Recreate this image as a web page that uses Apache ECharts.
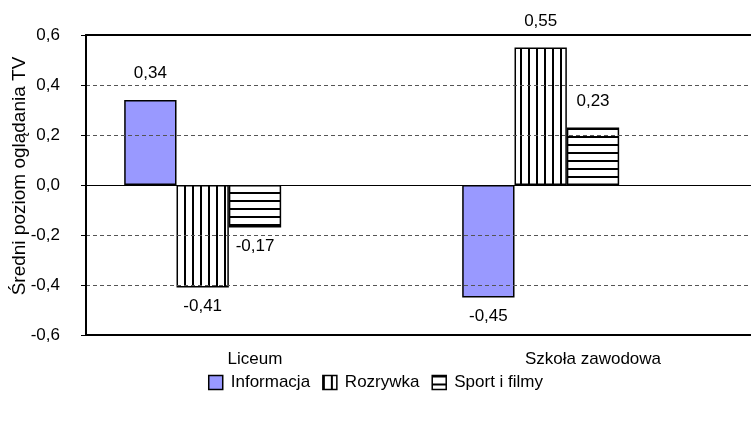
<!DOCTYPE html>
<html>
<head>
<meta charset="utf-8">
<script src="https://cdn.jsdelivr.net/npm/echarts@6/dist/echarts.min.js"></script>
<style>html,body{margin:0;padding:0;background:#fff}#c{width:751px;height:421px}</style>
</head>
<body>
<div id="c"></div>
<script>
var categories = ['Liceum', 'Szkoła zawodowa'];
var seriesNames = ['Informacja', 'Rozrywka', 'Sport i filmy'];
var informacja = [0.34, -0.45];
var rozrywka = [-0.41, 0.55];
var sportIFilmy = [-0.17, 0.23];
var yTicks = [-0.6, -0.4, -0.2, 0.0, 0.2, 0.4, 0.6];

var FONT = "'Liberation Sans', Arial, sans-serif";
function fmt(v) { return Number(v).toFixed(2).replace('.', ','); }

function makePattern(vertical) {
  var c = document.createElement('canvas');
  c.width = 8; c.height = 8;
  var ctx = c.getContext('2d');
  ctx.fillStyle = '#fff';
  ctx.fillRect(0, 0, 8, 8);
  ctx.fillStyle = '#000';
  if (vertical) ctx.fillRect(0, 0, 2, 8); else ctx.fillRect(0, 0, 8, 2);
  return { image: c, repeat: 'repeat' };
}

function buildData(vals) {
  return vals.map(function (v) {
    return {
      value: v,
      label: { position: v >= 0 ? 'top' : 'bottom', distance: v >= 0 ? 18 : 10 }
    };
  });
}

function barSeries(name, vals, color) {
  return {
    name: name,
    type: 'bar',
    data: buildData(vals),
    barGap: '0%',
    barCategoryGap: '22.6%',
    itemStyle: { color: color, borderColor: '#000', borderWidth: 1.5 },
    label: {
      show: true, color: '#000', fontFamily: FONT, fontSize: 17,
      formatter: function (p) { return fmt(p.value); }
    },
    emphasis: { disabled: true }
  };
}

var chart = echarts.init(document.getElementById('c'), null, { renderer: 'canvas' });
var series = [
  barSeries(seriesNames[0], informacja, '#9999FF'),
  barSeries(seriesNames[1], rozrywka, makePattern(true)),
  barSeries(seriesNames[2], sportIFilmy, makePattern(false)),
  { name: '_p1', type: 'bar', data: ['-', '-'], barGap: '0%', barCategoryGap: '22.6%' },
  { name: '_p2', type: 'bar', data: ['-', '-'], barGap: '0%', barCategoryGap: '22.6%' }
];
series[0].markLine = {
  silent: true, symbol: 'none', animation: false,
  data: [{ yAxis: 0 }],
  lineStyle: { color: '#000', type: 'solid', width: 1 },
  label: { show: false }
};

chart.setOption({
  animation: false,
  backgroundColor: '#fff',
  textStyle: { fontFamily: FONT },
  grid: { left: 86, top: 35, width: 676, height: 300, containLabel: false, outerBoundsMode: 'none' },
  legend: {
    data: seriesNames,
    top: 369,
    left: 'center',
    itemWidth: 14, itemHeight: 14, itemGap: 12,
    icon: 'rect',
    itemStyle: { borderColor: '#000', borderWidth: 1.5 },
    textStyle: { fontFamily: FONT, fontSize: 17, color: '#000', padding: [0, 0, 0, 3] }
  },
  xAxis: [
    {
      type: 'category', data: categories, position: 'bottom',
      axisLine: { onZero: false, lineStyle: { color: '#000', width: 2 } },
      axisTick: { show: false },
      axisLabel: { color: '#000', fontFamily: FONT, fontSize: 17, margin: 16 },
      z: 5
    },
    {
      type: 'category', data: categories, position: 'top',
      axisLine: { onZero: false, lineStyle: { color: '#000', width: 2 } },
      axisTick: { show: false }, axisLabel: { show: false },
      z: 5
    }
  ],
  yAxis: {
    type: 'value', min: yTicks[0], max: yTicks[yTicks.length - 1], interval: 0.2,
    name: 'Średni poziom oglądania TV', nameLocation: 'middle', nameGap: 57,
    nameMoveOverlap: false,
    nameTextStyle: { color: '#000', fontFamily: FONT, fontSize: 19, padding: [0, 0, 0, 18] },
    axisLine: { show: true, lineStyle: { color: '#000', width: 2 } },
    axisTick: { show: true, length: 5, lineStyle: { color: '#000' } },
    axisLabel: {
      color: '#000', fontFamily: FONT, fontSize: 17, margin: 26,
      formatter: function (v) { return (Math.abs(v) < 1e-9 ? 0 : v).toFixed(1).replace('.', ','); }
    },
    splitLine: { show: true, lineStyle: { color: '#555', type: [4, 3], width: 1 } },
    z: 5
  },
  series: series
});
</script>
</body>
</html>
